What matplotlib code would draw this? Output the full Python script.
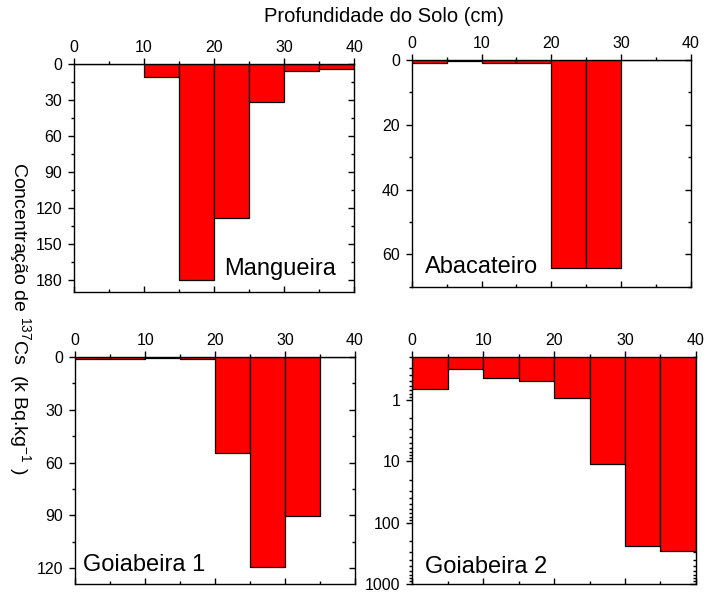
import numpy as np
import matplotlib
matplotlib.use('Agg')
import matplotlib.pyplot as plt

plt.rcParams['font.family'] = ['Liberation Sans', 'DejaVu Sans']
plt.rcParams['mathtext.fontset'] = 'custom'
plt.rcParams['mathtext.rm'] = 'Liberation Sans'
plt.rcParams['mathtext.it'] = 'Liberation Sans:italic'

# soil depth layers (cm), 5 cm each
depth = [0, 5, 10, 15, 20, 25, 30, 35]

# 137Cs concentration per layer
mangueira = [0, 0, 11, 180, 128, 32, 6, 4.5]
abacateiro = [1, 0.4, 1, 1, 64.2, 64.2, 0, 0]
goiabeira1 = [1.5, 1.5, 1, 1.5, 54.8, 119.4, 90.1, 0]
goiabeira2 = [0.67, 0.315, 0.45, 0.5, 0.95, 11.0, 238, 284]

names = ['Mangueira', 'Abacateiro', 'Goiabeira 1', 'Goiabeira 2']
series = [mangueira, abacateiro, goiabeira1, goiabeira2]
ylims = [(190, 0), (70, 0), (129, 0), (1000, 0.2)]
yticks = [np.arange(0, 181, 30), np.arange(0, 61, 20), np.arange(0, 121, 30), [1, 10, 100, 1000]]
yminor = [15, 10, 15, None]

boxes = [[0.1044, 0.5092, 0.395, 0.3832],
         [0.5807, 0.5182, 0.394, 0.381],
         [0.1062, 0.018, 0.3945, 0.3825],
         [0.5815, 0.018, 0.4001, 0.3825]]
label_pos = [(0.536, 0.10), (0.048, 0.088), (0.029, 0.085), (0.044, 0.077)]

fig = plt.figure(figsize=(7.09, 5.95), dpi=100)

for i in range(4):
    ax = fig.add_axes(boxes[i])
    if i == 3:
        ax.set_yscale('log')
    ax.bar(depth, series[i], width=5, align='edge', color='#ff0000',
           edgecolor='black', linewidth=0.9, zorder=2)
    ax.set_xlim(0, 40)
    ax.set_ylim(*ylims[i])
    ax.set_xticks(np.arange(0, 41, 10))
    ax.set_xticks(np.arange(0, 41, 5), minor=True)
    if i == 3:
        ax.set_yticks(yticks[i], labels=['1', '10', '100', '1000'])
    else:
        ax.set_yticks(yticks[i])
        ax.set_yticks(np.arange(0, ylims[i][0] + 0.1, yminor[i]), minor=True)
    ax.xaxis.tick_top()
    ax.tick_params(which='both', direction='out', labelsize=11.5, width=1)
    ax.tick_params(which='major', length=4.5, pad=2)
    ax.tick_params(which='minor', length=2.5)
    ax.tick_params(axis='y', pad=4)
    for s in ax.spines.values():
        s.set_linewidth(1.0)

    # inward ticks on right and bottom spines
    sy = ax.secondary_yaxis('right')
    sy.set_yticks(ax.get_yticks())
    sy.tick_params(which='both', direction='in', labelright=False, width=1)
    sy.tick_params(which='major', length=4.5)
    sy.tick_params(which='minor', length=2.5)
    if i != 3:
        sy.set_yticks(ax.get_yticks(minor=True), minor=True)
    sx = ax.secondary_xaxis('bottom')
    sx.set_xticks(np.arange(0, 41, 10))
    sx.set_xticks(np.arange(0, 41, 5), minor=True)
    sx.tick_params(which='both', direction='in', labelbottom=False, width=1)
    sx.tick_params(which='major', length=4.5)
    sx.tick_params(which='minor', length=2.5)
    sx.spines['bottom'].set_visible(False)
    sy.spines['right'].set_visible(False)
    ax.set_ylim(*ylims[i])

    ax.text(label_pos[i][0], label_pos[i][1], names[i], transform=ax.transAxes,
            fontsize=17, ha='left', va='center')

fig.text(384 / 709, 1 - 17 / 595, 'Profundidade do Solo (cm)', fontsize=14.5,
         ha='center', va='center')
fig.text(20 / 709, 1 - 318 / 595, 'Concentração de $^{137}$Cs  (k Bq.kg$^{-1}$ )',
         fontsize=14, rotation=270, ha='center', va='center')

fig.savefig('out.png', dpi=100)
